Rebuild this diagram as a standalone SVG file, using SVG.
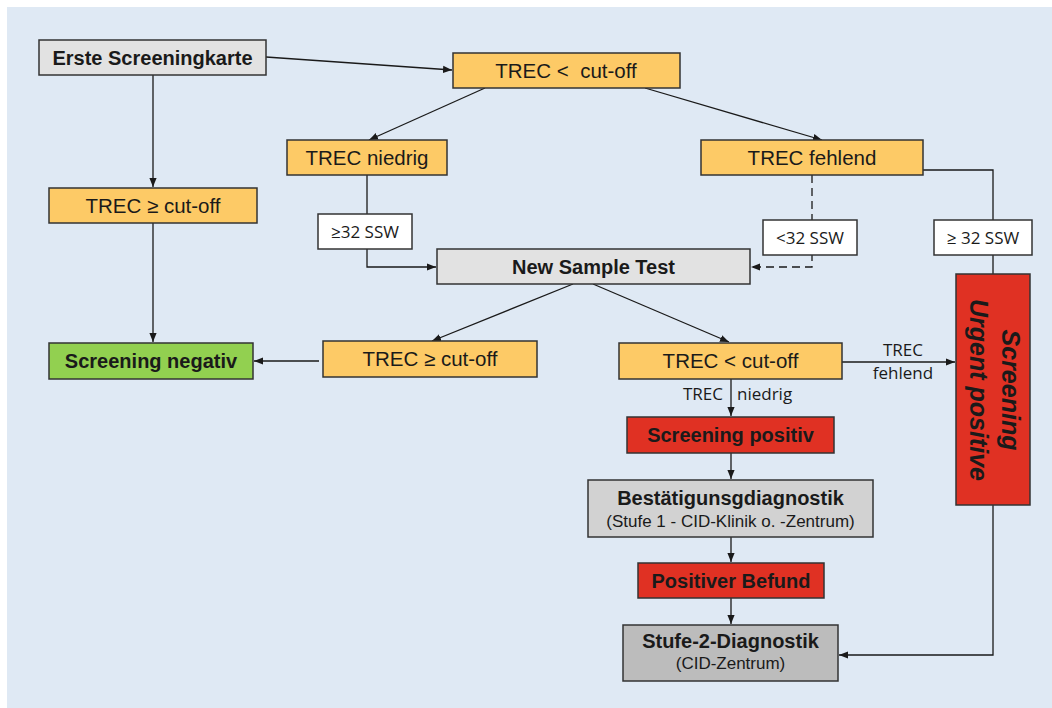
<svg xmlns="http://www.w3.org/2000/svg" width="1052" height="708" viewBox="0 0 1052 708">
<defs>
<marker id="ah" viewBox="0 0 10 10" refX="10" refY="5" markerWidth="9" markerHeight="9" markerUnits="userSpaceOnUse" orient="auto"><path d="M0,1 L10,5 L0,9 z" fill="#1a1a1a"/></marker>
<style>
.bx{stroke:#333;stroke-width:1.5}
.or{fill:#fdca66}
.gy{fill:#e2e2e2}
.g2{fill:#d2d2d2}
.g3{fill:#bcbcbc}
.rd{fill:#e03123}
.gn{fill:#92d050}
.wt{fill:#fff}
.t{font-family:"Liberation Sans",Arial,sans-serif;font-size:20.5px;fill:#1a1a1a;text-anchor:middle}
.b{font-weight:bold;font-size:20px}
.s{font-size:17px}
.l{font-family:"Open Sans","DejaVu Sans",sans-serif;font-size:17px;fill:#1a1a1a;text-anchor:middle}
.c{fill:none;stroke:#1a1a1a;stroke-width:1.3}
.d{stroke-dasharray:8 5}
</style>
</defs>
<rect x="7" y="7" width="1045" height="701" fill="#dfe9f4"/>
<g id="connectors">
<path class="c" d="M266,57 L452,70" marker-end="url(#ah)"/>
<path class="c" d="M485,88 L369,140" marker-end="url(#ah)"/>
<path class="c" d="M645,88 L822,140" marker-end="url(#ah)"/>
<path class="c" d="M153,75 V187" marker-end="url(#ah)"/>
<path class="c" d="M153,223 V342" marker-end="url(#ah)"/>
<path class="c" d="M367,175 V267 H436" marker-end="url(#ah)"/>
<path class="c d" d="M812,175 V267 H751" marker-end="url(#ah)"/>
<path class="c" d="M923,170 H993 V274"/>
<path class="c" d="M573,284 L432,341" marker-end="url(#ah)"/>
<path class="c" d="M593,284 L729,342" marker-end="url(#ah)"/>
<path class="c" d="M319,361 H254" marker-end="url(#ah)"/>
<path class="c" d="M842,362 H955" marker-end="url(#ah)"/>
<path class="c" d="M731,379 V416" marker-end="url(#ah)"/>
<path class="c" d="M731,453 V479" marker-end="url(#ah)"/>
<path class="c" d="M731,537 V562" marker-end="url(#ah)"/>
<path class="c" d="M731,598 V624" marker-end="url(#ah)"/>
<path class="c" d="M993,505 V655 H839" marker-end="url(#ah)"/>
<text class="l" x="903" y="356">TREC</text>
<text class="l" x="903" y="379">fehlend</text>
<text class="l" x="723" y="400" style="text-anchor:end">TREC</text>
<text class="l" x="737" y="400" style="text-anchor:start">niedrig</text>
</g>
<g id="erste"><rect class="bx gy" x="39" y="40" width="227" height="35"/><text class="t b" x="152.5" y="64.5">Erste Screeningkarte</text></g>
<g id="trec-cutoff-top"><rect class="bx or" x="453" y="53" width="227" height="35"/><text class="t" x="566" y="77.5" xml:space="preserve">TREC &lt;  cut-off</text></g>
<g id="trec-niedrig"><rect class="bx or" x="287" y="140" width="160" height="35"/><text class="t" x="367" y="164.5">TREC niedrig</text></g>
<g id="trec-fehlend"><rect class="bx or" x="701" y="140" width="222" height="35"/><text class="t" x="812" y="164.5">TREC fehlend</text></g>
<g id="trec-ge-left"><rect class="bx or" x="49" y="188" width="208" height="35"/><text class="t" x="153" y="212.5">TREC ≥ cut-off</text></g>
<g id="ssw-ge-left"><rect class="bx wt" x="318" y="214" width="94" height="35"/><text class="l" x="365" y="237.5">≥32 SSW</text></g>
<g id="ssw-lt"><rect class="bx wt" x="763" y="220" width="94" height="35"/><text class="l" x="810" y="243.5">&lt;32 SSW</text></g>
<g id="ssw-ge-right"><rect class="bx wt" x="934" y="220" width="98" height="35"/><text class="l" x="983" y="243.5">≥ 32 SSW</text></g>
<g id="new-sample"><rect class="bx gy" x="437" y="249" width="313" height="35"/><text class="t b" x="593.5" y="273.5">New Sample Test</text></g>
<g id="screening-negativ"><rect class="bx gn" x="49" y="343" width="204" height="36"/><text class="t b" x="151" y="368">Screening negativ</text></g>
<g id="trec-ge-mid"><rect class="bx or" x="323" y="341" width="214" height="36"/><text class="t" x="430" y="366">TREC ≥ cut-off</text></g>
<g id="trec-lt-mid"><rect class="bx or" x="619" y="343" width="223" height="36"/><text class="t" x="730.5" y="368">TREC &lt; cut-off</text></g>
<g id="urgent"><rect class="bx rd" x="956" y="274" width="74" height="231"/><g transform="translate(993,390) rotate(90)"><text class="t b" style="font-size:25px;font-style:italic" x="0" y="-9">Screening</text><text class="t b" style="font-size:25px;font-style:italic" x="0" y="23">Urgent positive</text></g></g>
<g id="screening-positiv"><rect class="bx rd" x="627" y="417" width="207" height="36"/><text class="t b" x="730.5" y="442">Screening positiv</text></g>
<g id="bestaetigung"><rect class="bx g2" x="588" y="480" width="285" height="57"/><text class="t b" x="730.5" y="505">Bestätigunsgdiagnostik</text><text class="t s" x="730.5" y="527">(Stufe 1 - CID-Klinik o. -Zentrum)</text></g>
<g id="positiver-befund"><rect class="bx rd" x="638" y="563" width="186" height="35"/><text class="t b" x="731" y="587.5">Positiver Befund</text></g>
<g id="stufe2"><rect class="bx g3" x="623" y="625" width="215" height="56"/><text class="t b" x="730.5" y="648">Stufe-2-Diagnostik</text><text class="t s" x="730.5" y="669">(CID-Zentrum)</text></g>
</svg>
